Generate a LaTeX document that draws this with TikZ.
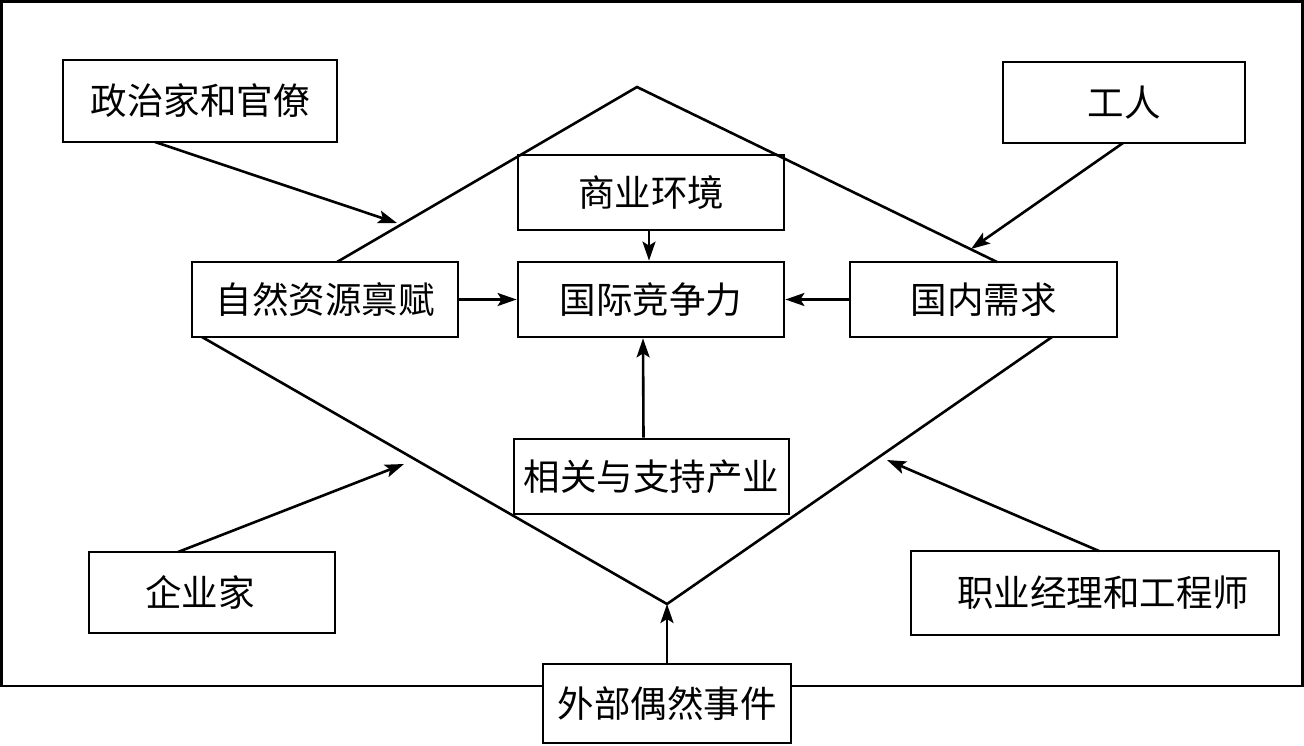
\documentclass[tikz,border=0pt]{standalone}
\usepackage{fontspec}
\newfontfamily\cjk{Noto Sans CJK SC}
\usetikzlibrary{arrows.meta}
\tikzset{
  box/.style={draw, line width=2.8pt, fill=white, inner sep=0pt, font=\cjk\fontsize{36.5}{42}\selectfont},
  edge/.style={line width=2.6pt},
  arr/.style={line width=2.6pt, -{Stealth[length=19pt,width=13pt,inset=4pt]}}
}
\begin{document}
\begin{tikzpicture}[x=1pt,y=-1pt]
\useasboundingbox (0,0) rectangle (1304,745);
% outer frame
\draw[edge] (1.5,1.5) rectangle (1302.5,686);
% boxes
\node[box, minimum width=274, minimum height=82] (zz) at (200,101) {政治家和官僚};
\node[box, minimum width=242, minimum height=81] (gr) at (1124,102.5) {工人};
\node[box, minimum width=266, minimum height=75] (sy) at (651,192.5) {商业环境};
\node[box, minimum width=266, minimum height=75] (gj) at (651,299.5) {国际竞争力};
\node[box, minimum width=266, minimum height=75] (zr) at (325,299.5) {自然资源禀赋};
\node[box, minimum width=267, minimum height=75] (gn) at (983.5,299.5) {国内需求};
\node[box, minimum width=275, minimum height=75] (xg) at (651.5,476.5) {相关与支持产业};
\node[box, minimum width=246, minimum height=81, text width=246, align=center] (qy) at (212,592.5) {\hspace*{-24pt}企业家};
\node[box, minimum width=368, minimum height=84, text width=368, align=center] (zy) at (1095,593) {\hspace*{16pt}职业经理和工程师};
\node[box, minimum width=248, minimum height=79] (wb) at (667,703.5) {外部偶然事件};
% diamond
\coordinate (T) at (637,87);
\coordinate (B) at (667,604);
\coordinate (zrT) at (337,262);
\coordinate (zrB) at (202,337);
\coordinate (gnT) at (997,262);
\coordinate (gnB) at (1052,337);
\draw[edge] (zrT) -- (T) -- (gnT);
\draw[edge] (zrB) -- (B) -- (gnB);
% arrow targets on the diamond
\coordinate (t1) at (397,223);
\coordinate (t2) at (971,249);
\coordinate (t3) at (404,464);
\coordinate (t4) at (887,460);
\coordinate (zzS) at (155,142);
\coordinate (grS) at (1123,143);
\coordinate (qyN) at (178,552);
\coordinate (zyN) at (1099,551);
\draw[arr] (zzS) -- (t1);
\draw[arr] (grS) -- (t2);
\draw[arr] (qyN) -- (t3);
\draw[arr] (zyN) -- (t4);
\draw[arr] (wb.north) -- (B);
% inner arrows
\draw[arr] ([xshift=-2pt]sy.south) -- ([xshift=-2pt]gj.north);
\draw[arr] ([xshift=-8pt]xg.north) -- ([xshift=-8pt]gj.south);
\draw[arr] (zr.east) -- (gj.west);
\draw[arr] (gn.west) -- (gj.east);
\end{tikzpicture}
\end{document}
